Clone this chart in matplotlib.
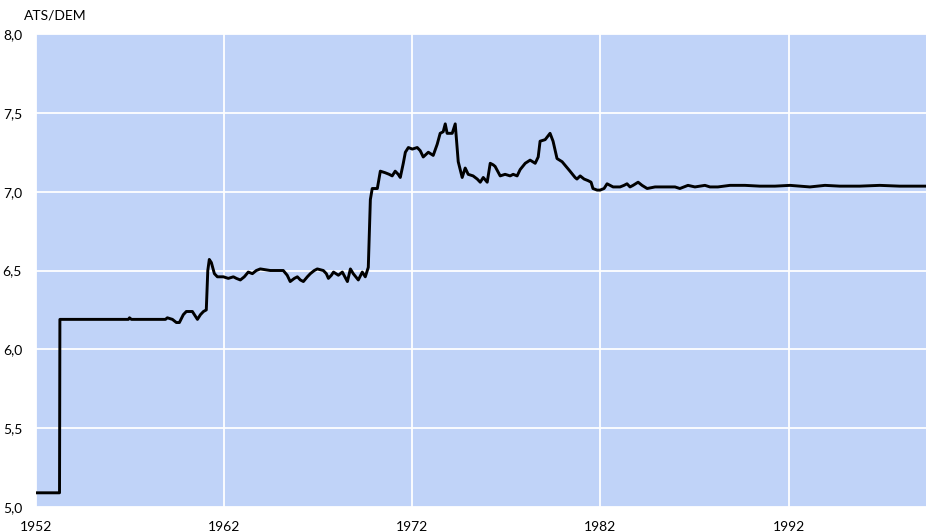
import matplotlib
matplotlib.use("Agg")
import matplotlib.pyplot as plt
from matplotlib.ticker import FuncFormatter

years = [1952.0, 1953.25, 1953.27, 1956.91, 1956.97, 1957.07, 1958.88, 1958.98, 1959.25, 1959.46,
         1959.62, 1959.83, 1959.99, 1960.31, 1960.42, 1960.58, 1960.74, 1960.90, 1961.05, 1961.13,
         1961.21, 1961.32, 1961.48, 1961.64, 1961.96, 1962.22, 1962.49, 1962.65, 1962.86, 1963.07,
         1963.28, 1963.50, 1963.71, 1963.92, 1964.45, 1965.14, 1965.35, 1965.51, 1965.73, 1965.89,
         1966.05, 1966.21, 1966.42, 1966.58, 1966.79, 1966.95, 1967.27, 1967.43, 1967.54, 1967.70,
         1967.81, 1968.07, 1968.28, 1968.55, 1968.71, 1968.86, 1969.13, 1969.34, 1969.50, 1969.66,
         1969.77, 1969.87, 1970.14, 1970.30, 1970.56, 1970.77, 1970.93, 1971.09, 1971.25, 1971.36,
         1971.52, 1971.63, 1971.79, 1972.00, 1972.26, 1972.42, 1972.58, 1972.85, 1973.11, 1973.32,
         1973.48, 1973.64, 1973.75, 1973.85, 1974.12, 1974.28, 1974.44, 1974.65, 1974.81, 1974.97,
         1975.23, 1975.45, 1975.61, 1975.77, 1975.98, 1976.14, 1976.30, 1976.40, 1976.67, 1976.93,
         1977.20, 1977.36, 1977.57, 1977.73, 1978.00, 1978.26, 1978.53, 1978.69, 1978.79, 1979.06,
         1979.32, 1979.48, 1979.69, 1979.96, 1980.17, 1980.38, 1980.65, 1980.75, 1980.92, 1981.13,
         1981.34, 1981.50, 1981.60, 1981.82, 1981.98, 1982.19, 1982.35, 1982.51, 1982.67, 1982.88,
         1983.04, 1983.25, 1983.41, 1983.57, 1983.73, 1984.00, 1984.21, 1984.48, 1984.90, 1985.43,
         1985.96, 1986.22, 1986.65, 1987.02, 1987.55, 1987.82, 1988.24, 1988.88, 1989.68, 1990.47,
         1991.27, 1992.07, 1992.60, 1993.13, 1993.93, 1994.72, 1995.78, 1996.84, 1997.90, 1999.28]

ats_dem = [5.09, 5.09, 6.19, 6.19, 6.20, 6.19, 6.19, 6.20, 6.19, 6.17,
           6.17, 6.22, 6.24, 6.24, 6.22, 6.19, 6.22, 6.24, 6.25, 6.50,
           6.57, 6.55, 6.48, 6.46, 6.46, 6.45, 6.46, 6.45, 6.44, 6.46,
           6.49, 6.48, 6.50, 6.51, 6.50, 6.50, 6.47, 6.43, 6.45, 6.46,
           6.44, 6.43, 6.46, 6.48, 6.50, 6.51, 6.50, 6.48, 6.45, 6.47,
           6.49, 6.47, 6.49, 6.43, 6.51, 6.48, 6.44, 6.49, 6.46, 6.52,
           6.95, 7.02, 7.02, 7.13, 7.12, 7.11, 7.10, 7.13, 7.11, 7.09,
           7.18, 7.25, 7.28, 7.27, 7.28, 7.26, 7.22, 7.25, 7.23, 7.30,
           7.37, 7.38, 7.43, 7.37, 7.37, 7.43, 7.19, 7.09, 7.15, 7.11,
           7.10, 7.08, 7.06, 7.09, 7.06, 7.18, 7.17, 7.16, 7.10, 7.11,
           7.10, 7.11, 7.10, 7.14, 7.18, 7.20, 7.18, 7.22, 7.32, 7.33,
           7.37, 7.32, 7.21, 7.19, 7.16, 7.13, 7.09, 7.08, 7.10, 7.08,
           7.07, 7.06, 7.02, 7.01, 7.01, 7.02, 7.05, 7.04, 7.03, 7.03,
           7.03, 7.04, 7.05, 7.03, 7.04, 7.06, 7.04, 7.02, 7.03, 7.03,
           7.03, 7.02, 7.04, 7.03, 7.04, 7.03, 7.03, 7.04, 7.04, 7.035,
           7.035, 7.04, 7.035, 7.03, 7.04, 7.035, 7.035, 7.04, 7.035, 7.035]

xticks = [1952, 1962, 1972, 1982, 1992]
yticks = [5.0, 5.5, 6.0, 6.5, 7.0, 7.5, 8.0]

plt.rcParams['font.family'] = ['Lato', 'DejaVu Sans']

fig = plt.figure(figsize=(9.26, 5.32), dpi=100)
ax = fig.add_axes([36/926, 1 - 507/532, (926 - 36)/926, (507 - 34)/532])
ax.set_facecolor('#C0D3F8')
ax.plot(years, ats_dem, color='black', lw=2.1, solid_joinstyle='round')
ax.set_xlim(1952, 1999.3)
ax.set_ylim(5.0, 8.0)
ax.set_xticks(xticks)
ax.set_yticks(yticks)
ax.yaxis.set_major_formatter(FuncFormatter(lambda v, p: f"{v:.1f}".replace('.', ',')))
ax.grid(True, color='white', lw=1.3)
ax.set_axisbelow(True)
for s in ax.spines.values():
    s.set_visible(False)
ax.tick_params(length=0, labelsize=10, colors='black')
ax.tick_params(axis='y', pad=10)
ax.tick_params(axis='x', pad=10)
fig.text(24/926, 1 - 16/532, 'ATS/DEM', fontsize=10, va='center', ha='left')
fig.savefig('out.png', dpi=100)
